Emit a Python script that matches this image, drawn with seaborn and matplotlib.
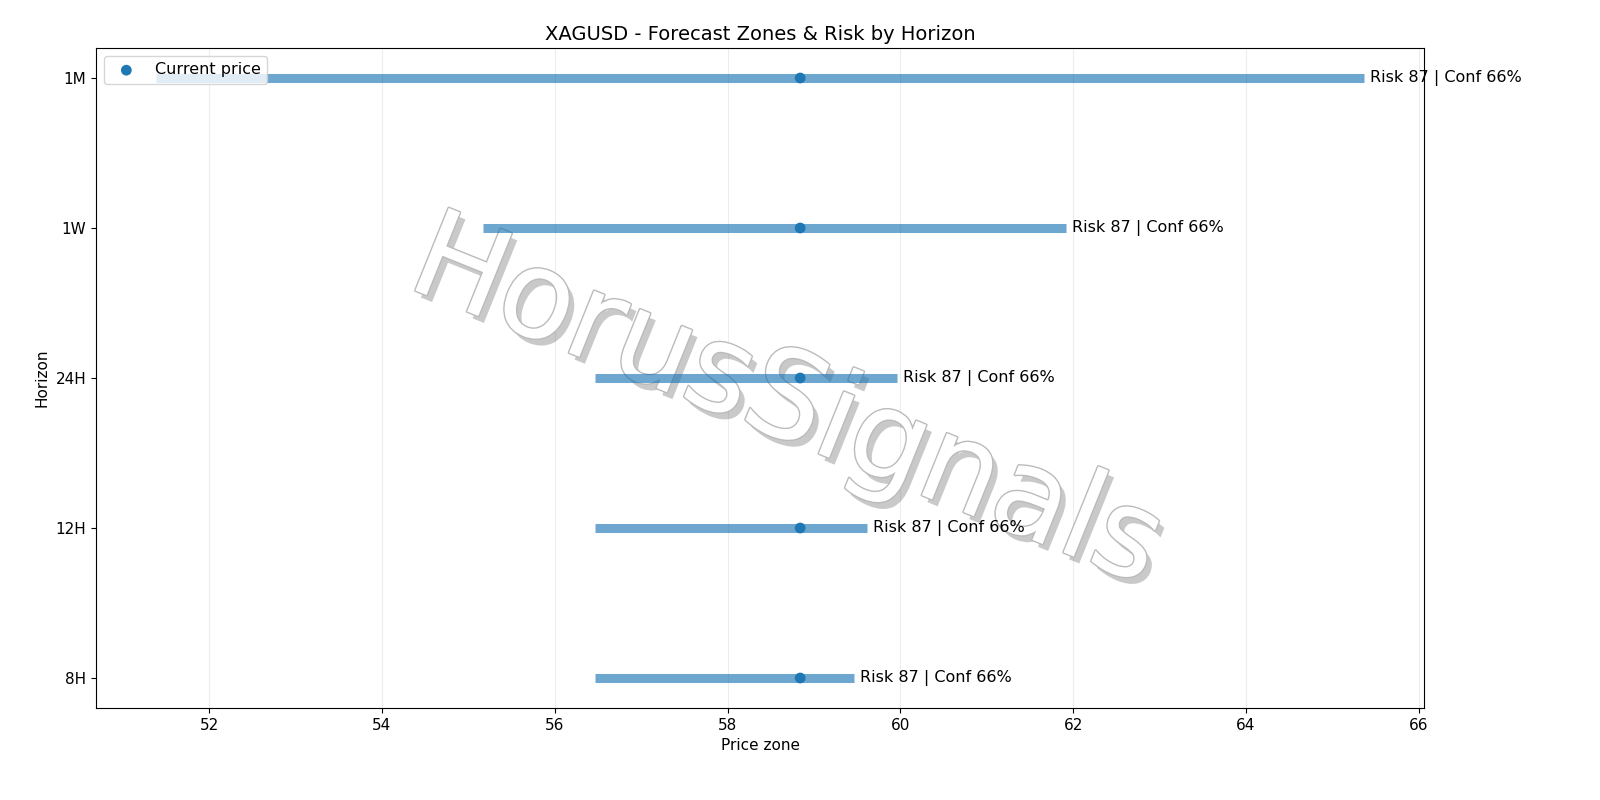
import numpy as np
import matplotlib.pyplot as plt
import matplotlib.patheffects as pe
import seaborn as sns

sns.set_style("ticks")
plt.rcParams['font.family'] = ['DejaVu Sans']
plt.rcParams['text.color'] = 'black'
plt.rcParams['axes.labelcolor'] = 'black'
plt.rcParams['xtick.color'] = 'black'
plt.rcParams['ytick.color'] = 'black'
plt.rcParams['axes.edgecolor'] = 'black'

horizons = ["8H", "12H", "24H", "1W", "1M"]
low = [56.47, 56.47, 56.47, 55.17, 51.39]
high = [59.46, 59.61, 59.96, 61.92, 65.36]
current = 58.84
risk = [87, 87, 87, 87, 87]
conf = [66, 66, 66, 66, 66]

fig, ax = plt.subplots(figsize=(16, 8), dpi=100)
y = np.arange(len(horizons))

ax.text(0.52, 0.46, "HorusSignals", transform=ax.transAxes, fontsize=88,
        rotation=-22, ha="center", va="center", color="white", zorder=1,
        path_effects=[pe.SimplePatchShadow(offset=(4, -5), alpha=0.3),
                      pe.withStroke(linewidth=2, foreground="#bbbbbb")])

ax.hlines(y, low, high, color="tab:blue", linewidth=6.5, alpha=0.65, zorder=2)
sns.scatterplot(x=[current] * len(y), y=y, ax=ax, color="tab:blue", s=60,
                edgecolor="none", label="Current price", zorder=3)
for yi, h, r, c in zip(y, high, risk, conf):
    ax.text(h + 0.07, yi, f"Risk {r} | Conf {c}%", va="center", fontsize=11.5)

ax.set_yticks(y)
ax.set_yticklabels(horizons, fontsize=11)
ax.tick_params(axis="x", labelsize=11)
ax.set_xlim(50.69, 66.06)
ax.set_ylim(-0.2, 4.2)
ax.grid(axis="x", alpha=0.35)
ax.set_xlabel("Price zone", fontsize=11)
ax.set_ylabel("Horizon", fontsize=11)
ax.set_title("XAGUSD - Forecast Zones & Risk by Horizon", fontsize=14)
ax.legend(loc="upper left", fontsize=11.5)

fig.subplots_adjust(left=0.06, right=0.89, top=0.94, bottom=0.115)
fig.savefig("out.png")
